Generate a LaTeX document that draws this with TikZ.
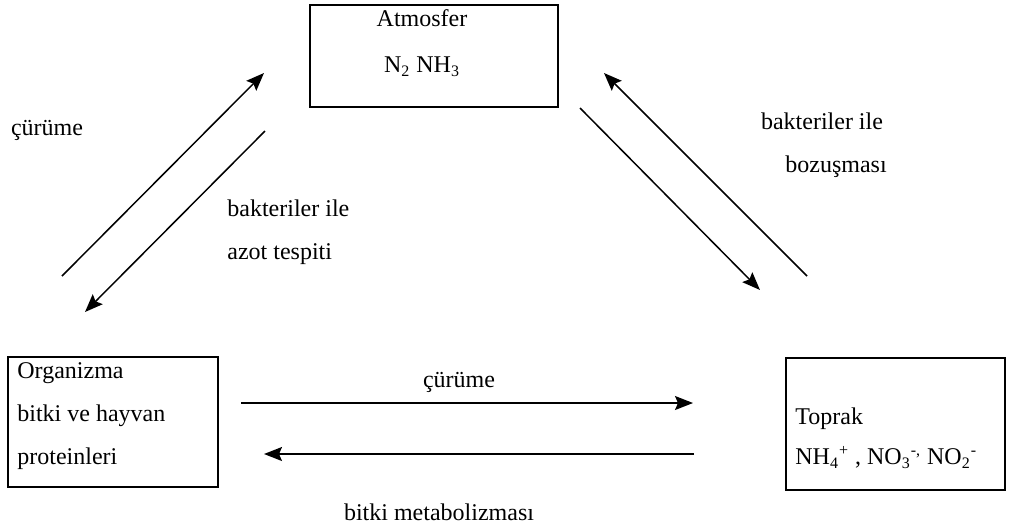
\documentclass[tikz,border=0pt]{standalone}
\usepackage{fontspec}
\setmainfont{Liberation Serif}
\usepackage{tikz}
\usetikzlibrary{arrows.meta,positioning}

\begin{document}
\begin{tikzpicture}[
    x=0.5pt, y=-0.5pt,
    reservoir/.style={rectangle, draw=black, line width=1.1pt, inner sep=0pt},
    note/.style={font=\fontsize{12pt}{21.5pt}\selectfont, inner sep=0pt},
    flow/.style={-{Stealth[length=9pt, width=7pt, inset=1.5pt]}, line width=0.75pt}
]
    \useasboundingbox (0,0) rectangle (1011,527);

    % Reservoirs
    \node[reservoir, minimum width=124pt, minimum height=51pt] (atmosfer) at (434,56) {};
    \node[reservoir, minimum width=105pt, minimum height=65pt] (organizma) at (113,422) {};
    \node[reservoir, minimum width=109.5pt, minimum height=66pt] (toprak) at (895.5,424) {};

    % Reservoir texts
    \node[note, align=center, font=\fontsize{12pt}{23pt}\selectfont] (atmosferyazi) at (422,43) {Atmosfer\\N\textsubscript{2} NH\textsubscript{3}};
    \node[note, align=left, anchor=west] (organizmayazi) at (17,416.5) {Organizma\\bitki ve hayvan\\proteinleri};
    \node[note, align=left, anchor=west, font=\fontsize{12pt}{20pt}\selectfont] (toprakyazi) at (795,438) {Toprak\\NH\textsubscript{4}\textsuperscript{+} , NO\textsubscript{3}\textsuperscript{-,} NO\textsubscript{2}\textsuperscript{-}};

    % Arrow ends
    \coordinate (curumeA) at (62,276);
    \coordinate (curumeB) at (264,73);
    \coordinate (azotA) at (265,131);
    \coordinate (azotB) at (85,312);
    \coordinate (bozusmaA) at (807,276);
    \coordinate (bozusmaB) at (604,73);
    \coordinate (inisA) at (580,108);
    \coordinate (inisB) at (760,290);
    \coordinate (altA) at (241,403);
    \coordinate (altB) at (693,403);
    \coordinate (metA) at (694,454);
    \coordinate (metB) at (264,454);

    % Arrows
    \draw[flow] (curumeA) -- (curumeB);
    \draw[flow] (azotA) -- (azotB);
    \draw[flow] (bozusmaA) -- (bozusmaB);
    \draw[flow] (inisA) -- (inisB);
    \draw[flow] (altA) -- (altB);
    \draw[flow] (metA) -- (metB);

    % Arrow texts
    \node[note] (curume) at (47,130) {çürüme};
    \node[note, align=left, anchor=west] (azot) at (227,232.5) {bakteriler ile\\azot tespiti};
    \node[note, align=center] (bozusma) at (822,145.5) {bakteriler ile\\\hspace*{14pt}bozuşması};
    \node[note] (curumealt) at (459,382) {çürüme};
    \node[note] (metabolizma) at (439,512) {bitki metabolizması};
\end{tikzpicture}
\end{document}
